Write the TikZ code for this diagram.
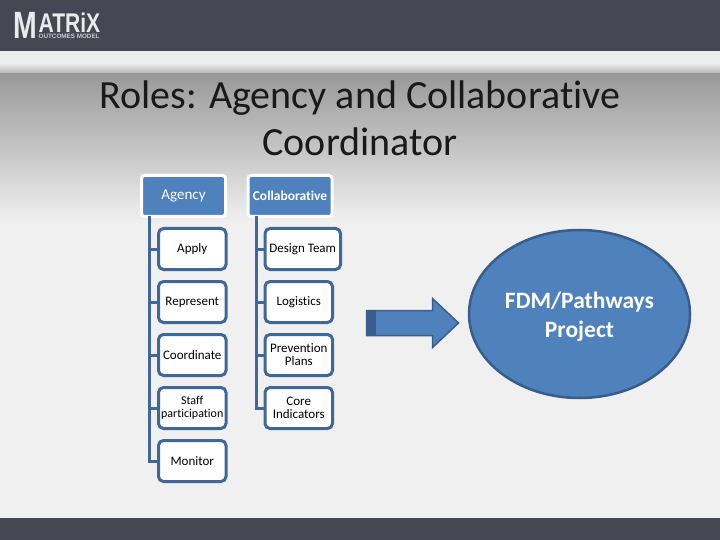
\documentclass[tikz,border=0pt]{standalone}
\usepackage{xcolor}
\usepackage{fontspec}
\setmainfont{Carlito}[Ligatures=CommonOff]
\newfontfamily\logofont{Liberation Sans}
\usetikzlibrary{arrows.meta,positioning,shapes.geometric,calc}
\definecolor{bandgray}{HTML}{454753}
\definecolor{headblue}{HTML}{4F81BD}
\definecolor{edgeblue}{HTML}{3F6797}
\definecolor{darkblue}{HTML}{385D8A}

\begin{document}
\begin{tikzpicture}[
    x=1pt, y=-1pt,
    headbox/.style={rectangle, draw=white, fill=headblue, rounded corners=3pt, line width=3pt,
                    minimum width=84pt, minimum height=41pt, outer sep=0pt, text=white,
                    font=\fontsize{15}{16}\selectfont, align=center, inner sep=0pt},
    itembox/.style={rectangle, draw=edgeblue, fill=white, rounded corners=5pt, line width=3pt,
                    minimum width=67.5pt, minimum height=41pt, outer sep=0pt,
                    font=\fontsize{13}{14}\selectfont, align=center, inner sep=0pt},
    lnk/.style={draw=edgeblue, line width=3pt},
    node distance=12pt
]
\useasboundingbox (0,0) rectangle (720,540);

% Slide background
\fill[white!94!black] (0,0) rectangle (720,540);
\shade[top color=white!60!black, bottom color=white!94!black] (0,73) rectangle (720,222);
\shade[top color=white!93!black, bottom color=white!72!black] (0,63) rectangle (720,73);
\fill[white!93!black] (0,51) rectangle (720,63);
\fill[bandgray] (0,0) rectangle (720,51);
\fill[bandgray] (0,518) rectangle (720,540);

% Logo
\node[text=white!92!black, font=\logofont\bfseries\fontsize{38}{38}\selectfont, xscale=0.75, inner sep=0pt] (logom) at (25.5,25.5) {M};
\node[text=white!92!black, font=\logofont\bfseries\fontsize{27}{27}\selectfont, xscale=0.78, inner sep=0pt, anchor=west] (logoa) at (38.5,22.5) {ATRiX};
\node[text=white!80!black, font=\logofont\bfseries\fontsize{6.3}{7}\selectfont, inner sep=0pt, anchor=west] (logob) at (38.5,36.5) {OUTCOMES MODEL};

% Title
\node[align=center, font=\fontsize{40}{47.5}\selectfont, text=black!90, inner sep=0pt] (title) at (360,118.5)
    {Roles: Agency and Collaborative\\Coordinator};

% Agency column
\node[headbox] (agency) at (183.5,196) {Agency};
\node[itembox, anchor=north west] (apply) at (158.5,228.5) {Apply};
\node[itembox, below=of apply] (represent) {Represent};
\node[itembox, below=of represent] (coordinate) {Coordinate};
\node[itembox, below=of coordinate, font=\fontsize{12}{14}\selectfont] (staff) {Staff\\[-1pt]participation};
\node[itembox, below=of staff] (monitor) {Monitor};

% Collaborative column
\node[headbox] (collab) at (290,196) {\fontsize{13.5}{14}\selectfont\textbf{Collaborative}};
\node[itembox, anchor=north west, minimum width=75.5pt] (design) at (265,228.5) {Design Team};
\node[itembox, below=of design.south west, anchor=north west] (logistics) {Logistics};
\node[itembox, below=of logistics] (prevention) {Prevention\\[-1pt]Plans};
\node[itembox, below=of prevention] (core) {Core\\[-1pt]Indicators};

% Trunks
\coordinate (atrunk) at ($(agency.south west)+(8,0)$);
\coordinate (ctrunk) at ($(collab.south west)+(8,0)$);
\draw[lnk] (atrunk) |- (apply.west);
\draw[lnk] (atrunk) |- (represent.west);
\draw[lnk] (atrunk) |- (coordinate.west);
\draw[lnk] (atrunk) |- (staff.west);
\draw[lnk] (atrunk) |- (monitor.west);
\draw[lnk] (ctrunk) |- (design.west);
\draw[lnk] (ctrunk) |- (logistics.west);
\draw[lnk] (ctrunk) |- (prevention.west);
\draw[lnk] (ctrunk) |- (core.west);

% Project ellipse and block arrow
\node[ellipse, draw=darkblue, fill=headblue, line width=2.5pt, minimum width=221pt, minimum height=168pt,
      inner sep=0pt, text=white, align=center, font=\bfseries\fontsize{23.5}{29}\selectfont] (project) at (579.5,314)
      {\rule{0pt}{22pt}FDM/Pathways\\Project};
\fill[headblue, draw=darkblue, line width=1.5pt, line join=miter]
    (366.5,310.5) -- (432.5,310.5) -- (432.5,298.5) -- (458.5,323) -- (432.5,347.5) -- (432.5,335.5) -- (366.5,335.5) -- cycle;
\fill[darkblue] (366,310) rectangle (376,336);
\end{tikzpicture}
\end{document}
